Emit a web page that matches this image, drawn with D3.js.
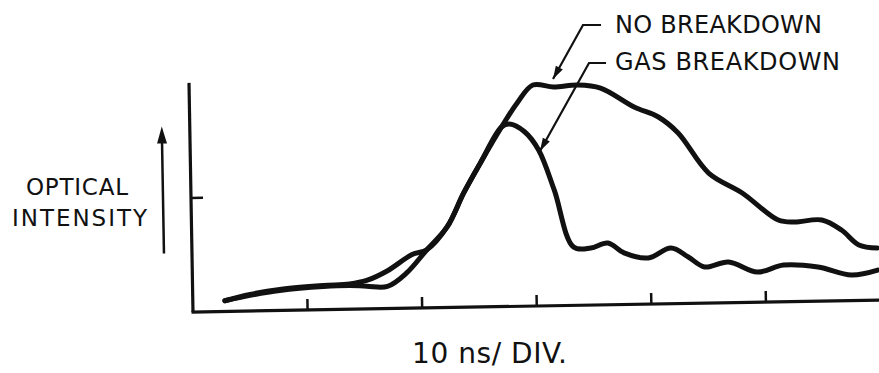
<!DOCTYPE html>
<html>
<head>
<meta charset="utf-8">
<script src="https://cdn.jsdelivr.net/npm/d3@7/dist/d3.min.js"></script>
<style>
  html, body { margin: 0; padding: 0; background: #fff; }
  svg { display: block; }
  text { font-family: "DejaVu Sans", sans-serif; fill: #111; }
</style>
</head>
<body>
<svg id="chart" width="879" height="373"></svg>
<script>
// ---- data (time in divisions of 10 ns, intensity in y-tick units) ----
const noBreakdownX = [0.28, 0.50, 0.76, 1.14, 1.37, 1.52, 1.70, 1.92, 2.05, 2.23, 2.38, 2.53, 2.72,
  2.86, 3.00, 3.18, 3.39, 3.59, 3.88, 4.09, 4.26, 4.52, 4.81, 5.12, 5.26, 5.50, 5.67, 5.82, 5.98];
const noBreakdownY = [0.094, 0.145, 0.185, 0.213, 0.222, 0.250, 0.330, 0.470, 0.510, 0.707, 1.003, 1.263, 1.575,
  1.784, 1.939, 1.918, 1.932, 1.902, 1.731, 1.639, 1.496, 1.140, 0.960, 0.717, 0.697, 0.711, 0.620, 0.486, 0.456];
const gasBreakdownX = [0.28, 0.50, 0.76, 1.14, 1.37, 1.52, 1.70, 1.87, 2.05, 2.23, 2.38, 2.53, 2.72,
  2.79, 2.92, 3.04, 3.17, 3.33, 3.48, 3.63, 3.77, 3.98, 4.18, 4.33, 4.47, 4.68, 4.93, 5.16, 5.46, 5.75, 5.98];
const gasBreakdownY = [0.094, 0.137, 0.175, 0.203, 0.208, 0.200, 0.195, 0.310, 0.510, 0.707, 1.003, 1.263, 1.575,
  1.600, 1.530, 1.368, 1.015, 0.512, 0.500, 0.542, 0.452, 0.404, 0.488, 0.407, 0.317, 0.357, 0.264, 0.322, 0.299, 0.224, 0.263];
const xTicks = [1, 2, 3, 4, 5];
const yTicks = [1];
const yLabelLines = ["OPTICAL", "INTENSITY"];
const xLabel = "10 ns/ DIV.";
const seriesNames = ["NO BREAKDOWN", "GAS BREAKDOWN"];

// ---- layout ----
const svg = d3.select("#chart");
const x0 = 193, y0 = 312;
const x = d3.scaleLinear().domain([0, 6]).range([x0, x0 + 6 * 114.6]);
const y = d3.scaleLinear().domain([0, 2]).range([y0, y0 - 228]);

const plot = svg.append("g").attr("transform", `rotate(-1, ${x0}, ${y0})`);

// axes
plot.append("line").attr("x1", x(0)).attr("y1", y(0)).attr("x2", x(0)).attr("y2", y(2.01))
  .attr("stroke", "#111").attr("stroke-width", 3.2);
plot.append("line").attr("x1", x(0) - 1.5).attr("y1", y(0)).attr("x2", x(6)).attr("y2", y(0))
  .attr("stroke", "#111").attr("stroke-width", 3.2);
plot.selectAll(".xt").data(xTicks).enter().append("line")
  .attr("x1", d => x(d)).attr("x2", d => x(d)).attr("y1", y(0)).attr("y2", y(0) - 11)
  .attr("stroke", "#111").attr("stroke-width", 2.5);
plot.selectAll(".yt").data(yTicks).enter().append("line")
  .attr("x1", x(0)).attr("x2", x(0) + 12).attr("y1", d => y(d)).attr("y2", d => y(d))
  .attr("stroke", "#111").attr("stroke-width", 2.5);

// curves
const line = d3.line().x(d => x(d[0])).y(d => y(d[1])).curve(d3.curveCatmullRom.alpha(0.5));
const series = [
  d3.zip(noBreakdownX, noBreakdownY),
  d3.zip(gasBreakdownX, gasBreakdownY)
];
plot.selectAll(".curve").data(series).enter().append("path")
  .attr("d", line).attr("fill", "none").attr("stroke", "#111")
  .attr("stroke-width", 5).attr("stroke-linejoin", "round").attr("stroke-linecap", "round");

// left intensity arrow
plot.append("line").attr("x1", 165).attr("y1", 253).attr("x2", 165).attr("y2", 138)
  .attr("stroke", "#111").attr("stroke-width", 2.5);
plot.append("path").attr("d", "M165,126 L160,143 L170,143 Z").attr("fill", "#111");

// y label
const yl = svg.append("g");
yl.append("text").attr("x", 26).attr("y", 195).attr("font-size", 23)
  .attr("textLength", 102).attr("lengthAdjust", "spacing").text(yLabelLines[0]);
yl.append("text").attr("x", 12).attr("y", 226).attr("font-size", 23)
  .attr("textLength", 135).attr("lengthAdjust", "spacing").text(yLabelLines[1]);

// x label
svg.append("text").attr("x", 412).attr("y", 363).attr("font-size", 28)
  .attr("textLength", 155).attr("lengthAdjust", "spacing").text(xLabel);

// series labels with leader arrows
function leader(pts) {
  const g = svg.append("g");
  g.append("path").attr("d", d3.line()(pts)).attr("fill", "none")
    .attr("stroke", "#111").attr("stroke-width", 2.2);
  const a = pts[pts.length - 2], b = pts[pts.length - 1];
  const ang = Math.atan2(b[1] - a[1], b[0] - a[0]);
  const L = 13, W = 4;
  const bx = b[0] - L * Math.cos(ang), by = b[1] - L * Math.sin(ang);
  const px = -Math.sin(ang) * W, py = Math.cos(ang) * W;
  g.append("path").attr("d", `M${b[0]},${b[1]} L${bx + px},${by + py} L${bx - px},${by - py} Z`).attr("fill", "#111");
}
leader([[601, 25], [583, 25], [553, 79]]);
leader([[606, 63], [589, 63], [540, 151]]);
svg.append("text").attr("x", 615).attr("y", 33).attr("font-size", 24)
  .attr("textLength", 207).attr("lengthAdjust", "spacing").text(seriesNames[0]);
svg.append("text").attr("x", 615).attr("y", 70).attr("font-size", 24)
  .attr("textLength", 225).attr("lengthAdjust", "spacing").text(seriesNames[1]);
</script>
</body>
</html>
